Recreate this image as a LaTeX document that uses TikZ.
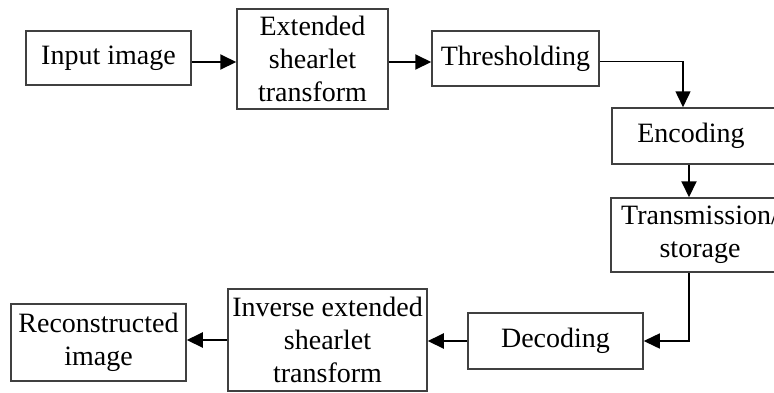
\documentclass[tikz,border=0pt]{standalone}
\usepackage{fontspec}
\setmainfont{Liberation Serif}
\usetikzlibrary{arrows.meta}

\begin{document}
\begin{tikzpicture}[x=1pt,y=-1pt,
        blk/.style={draw=black!75,line width=1.5pt,inner sep=0pt,align=center,
            font=\fontsize{28}{33}\selectfont},
        flow/.style={line width=2pt,-{Triangle[length=16pt,width=15pt]}}]
    \useasboundingbox (0,0) rectangle (774,392);
    \node[blk,minimum width=165,minimum height=54] (in) at (108.5,58) {Input image};
    \node[blk,minimum width=151,minimum height=100] (est) at (312.5,59) {Extended\\shearlet\\transform};
    \node[blk,minimum width=167,minimum height=55] (thr) at (515.5,58.5) {Thresholding};
    \node[blk,minimum width=178,minimum height=56] (enc) at (701,136) {\hspace*{-20pt}Encoding};
    \node[blk,minimum width=178,minimum height=74] (ts) at (700,235) {Transmission/\\storage};
    \node[blk,minimum width=175,minimum height=56] (dec) at (555.5,341) {Decoding};
    \node[blk,minimum width=199,minimum height=102] (iest) at (327.5,340) {Inverse extended\\shearlet\\transform};
    \node[blk,minimum width=175,minimum height=77] (rec) at (98.5,342.5) {Reconstructed\\image};

    \draw[flow] ([yshift=-4pt]in.east) -- ([yshift=-4pt]in.east -| est.west);
    \draw[flow] ([yshift=-3pt]est.east) -- ([yshift=-3pt]est.east -| thr.west);
    \draw[flow,line width=1.5pt] ([yshift=-3pt]thr.east) -| ([xshift=-18pt]enc.north);
    \draw[flow] ([xshift=-12pt]enc.south) -- ([xshift=-12pt]enc.south |- ts.north);
    \draw[flow,line width=1.5pt] ([xshift=-11pt]ts.south) |- (dec.east);
    \draw[flow] (dec.west) -- (dec.west -| iest.east);
    \draw[flow] (iest.west) -- (iest.west -| rec.east);
\end{tikzpicture}
\end{document}
